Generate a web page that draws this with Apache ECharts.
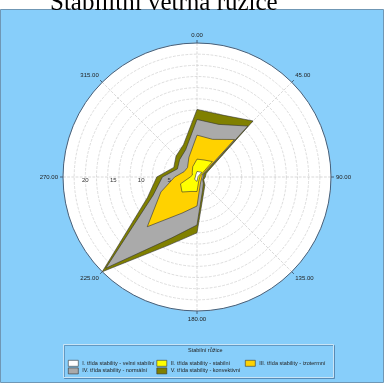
<!DOCTYPE html>
<html>
<head>
<meta charset="utf-8">
<script src="https://cdn.jsdelivr.net/npm/echarts@6/dist/echarts.min.js"></script>
<style>
  html, body { margin: 0; padding: 0; background: #fff; }
  #chart { width: 384px; height: 383px; }
</style>
</head>
<body>
<div id="chart"></div>
<script>
// smery vetru (stupne), 16 sektoru
const directions = [0, 22.5, 45, 67.5, 90, 112.5, 135, 157.5, 180, 202.5, 225, 247.5, 270, 292.5, 315, 337.5]
const angleLabels = [0, 45, 90, 135, 180, 225, 270, 315]
const radiusLabels = [5, 10, 15, 20]

// cetnosti podle tridy stability (%), v poradi smeru
const classNames = [
  'I. třída stability - velmi stabilní',
  'II. třída stability - stabilní',
  'III. třída stability - izotermní',
  'IV. třída stability - normální',
  'V. třída stability - konvektivní'
]
const classI   = [1.0, 1.0, 1.2, 0.2, 0.1, 0.1, 0.1, 0.2, 0.8, 0.6, 0.6, 0.5, 0.3, 0.2, 0.3, 0.5]
const classII  = [2.2, 2.3, 2.7, 0.4, 0.4, 0.4, 0.4, 0.6, 1.8, 2.2, 3.2, 2.7, 0.9, 0.7, 0.9, 1.5]
const classIII = [4.3, 4.0, 5.6, 0.4, 0.4, 0.3, 0.5, 0.7, 2.6, 4.2, 8.8, 3.8, 2.8, 1.6, 1.2, 1.8]
const classIV  = [2.8, 2.9, 3.4, 0.3, 0.3, 0.3, 0.6, 1.1, 3.4, 4.8, 10.5, 1.5, 2.2, 1.3, 2.0, 1.5]
const classV   = [1.8, 1.8, 1.3, 0.5, 0.3, 0.2, 0.4, 0.5, 1.4, 1.4, 0.9, 1.1, 1.0, 0.7, 0.9, 1.0]
const classColors = ['#ffffff', '#ffff00', '#ffd200', '#aaaaaa', '#808000']

const classes = [classI, classII, classIII, classIV, classV]

// kumulativni soucty (ruzice je "nasklanana")
const cumulative = []
classes.forEach((vals, i) => {
  cumulative.push(vals.map((v, k) => v + (i > 0 ? cumulative[i - 1][k] : 0)))
})

const center = [197, 177]
const radius = 134
const rMax = 24

// nejvetsi polygon kreslit prvni
const series = classes.map((_, i) => {
  const data = directions.map((a, k) => [cumulative[i][k], a])
  data.push([cumulative[i][0], 360]) // uzavrit polygon
  return {
    name: classNames[i],
    type: 'line',
    coordinateSystem: 'polar',
    polarIndex: 0,
    symbol: 'none',
    z: 10 - i,
    itemStyle: { color: classColors[i] },
    lineStyle: { color: '#333', width: 0.6 },
    areaStyle: { color: classColors[i], opacity: 1 },
    animation: false,
    data
  }
})

const legendBase = {
  orient: 'vertical',
  top: 360,
  padding: 0,
  itemWidth: 10,
  itemHeight: 6,
  itemGap: 1,
  icon: 'rect',
  selectedMode: false,
  itemStyle: { borderColor: '#333', borderWidth: 0.6 },
  textStyle: { fontSize: 5.5, lineHeight: 6, color: '#222', fontFamily: 'Liberation Sans', padding: [0, 0, 0, -1] }
}

const chart = echarts.init(document.getElementById('chart'))
chart.setOption({
  backgroundColor: '#fff',
  animation: false,
  title: [{
    text: 'Stabilitní větrná růžice',
    left: 45,
    top: -14,
    textStyle: { fontFamily: 'Liberation Serif', fontSize: 25, fontWeight: 'normal', color: '#000' }
  }, {
    text: 'Stabilní růžice',
    left: 188,
    top: 347,
    padding: 0,
    textStyle: { fontFamily: 'Liberation Sans', fontSize: 5.5, fontWeight: 'normal', color: '#222' }
  }],
  graphic: [
    {
      type: 'rect', z: -10, silent: true,
      shape: { x: 0.5, y: 9.5, width: 383, height: 373 },
      style: { fill: '#87cefa', stroke: '#6f97b5', lineWidth: 1 }
    },
    {
      // bile pozadi kruhu
      type: 'circle', z: -6, silent: true,
      shape: { cx: center[0], cy: center[1], r: radius },
      style: { fill: '#ffffff' }
    },
    {
      type: 'rect', z: -5, silent: true,
      shape: { x: 63.5, y: 344.5, width: 270, height: 33 },
      style: { fill: '#87cefa', stroke: '#c9e4f5', lineWidth: 1, shadowColor: 'rgba(60,100,140,0.5)', shadowOffsetX: 1, shadowOffsetY: 1 }
    }
  ],
  polar: [
    { center, radius },
    { center, radius }
  ],
  angleAxis: [{
    polarIndex: 0,
    type: 'value',
    min: 0,
    max: 360,
    interval: 45,
    startAngle: 90,
    clockwise: true,
    axisLine: { lineStyle: { color: '#44607c', width: 1 } },
    axisTick: { show: true, length: 3, lineStyle: { color: '#44607c' } },
    axisLabel: {
      fontSize: 6, color: '#222', fontFamily: 'Liberation Sans', margin: 5,
      formatter: v => (angleLabels.includes(v) ? v.toFixed(2) : '')
    },
    splitLine: { lineStyle: { color: '#c8c8c8', type: 'dashed', width: 0.7 } }
  }, {
    polarIndex: 1,
    type: 'value',
    min: 0,
    max: 360,
    startAngle: 180,
    show: false
  }],
  radiusAxis: [{
    polarIndex: 0,
    min: 0,
    max: rMax,
    interval: 2,
    axisLine: { show: false },
    axisTick: { show: false },
    axisLabel: { show: false },
    splitLine: { show: true, lineStyle: { color: '#cfcfcf', type: 'dashed', width: 0.7 } }
  }, {
    polarIndex: 1,
    min: 0,
    max: rMax,
    interval: 5,
    z: 20,
    axisLine: { show: false },
    axisTick: { show: false },
    splitLine: { show: false },
    axisLabel: {
      fontSize: 6, color: '#333', fontFamily: 'Liberation Sans', margin: 0,
      formatter: v => (radiusLabels.includes(v) ? String(v) : '')
    }
  }],
  legend: [
    Object.assign({}, legendBase, { left: 68, data: [classNames[0], classNames[3]] }),
    Object.assign({}, legendBase, { left: 156.5, data: [classNames[1], classNames[4]] }),
    Object.assign({}, legendBase, { left: 245, data: [classNames[2]] })
  ],
  series
})
</script>
</body>
</html>
